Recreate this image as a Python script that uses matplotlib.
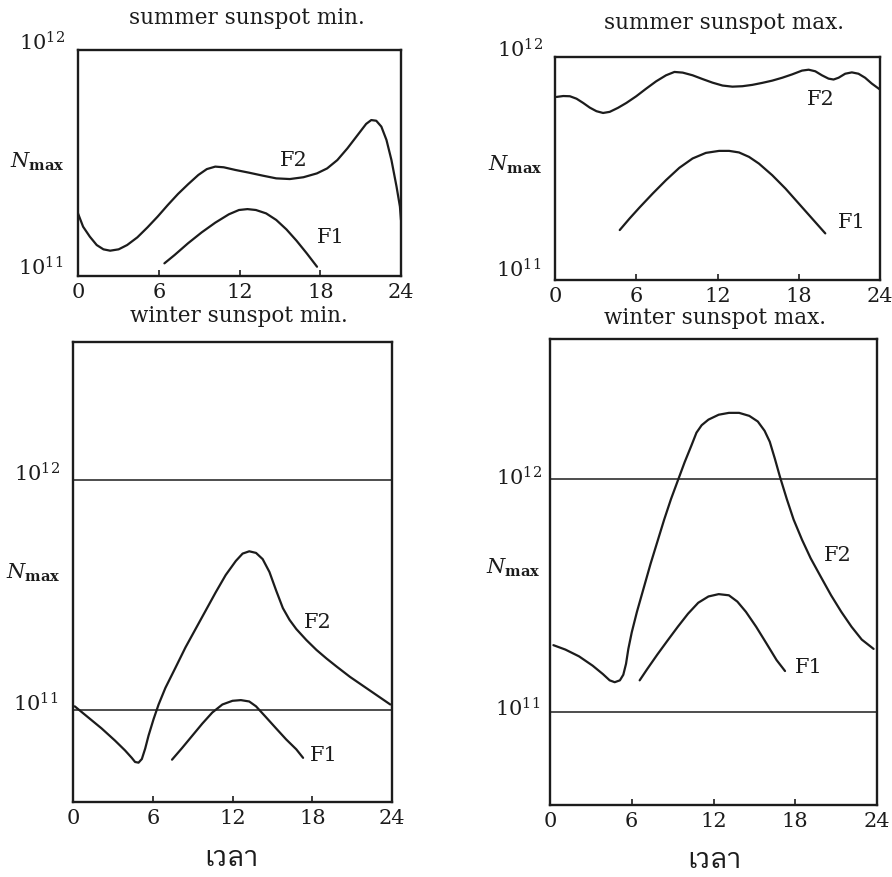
import matplotlib
matplotlib.use("Agg")
import matplotlib.pyplot as plt
import numpy as np
from matplotlib import font_manager, ft2font

# hours / log10(N)
sum_min_f2_t = [0, 0.38, 0.88, 1.39, 1.89, 2.39, 3.02, 3.65, 4.41, 5.16, 5.92, 6.67, 7.43, 8.18, 8.94, 9.57,
                10.2, 10.83, 11.71, 12.72, 13.73, 14.73, 15.74, 16.75, 17.75, 18.51, 19.27, 20.02, 20.78,
                21.41, 21.79, 22.16, 22.54, 22.92, 23.29, 23.67, 23.92, 24]
sum_min_f2_n = [11.277, 11.218, 11.174, 11.137, 11.118, 11.112, 11.118, 11.137, 11.171, 11.215, 11.263, 11.314,
                11.363, 11.406, 11.447, 11.473, 11.484, 11.481, 11.469, 11.457, 11.444, 11.432, 11.429, 11.437,
                11.454, 11.476, 11.513, 11.565, 11.624, 11.673, 11.690, 11.687, 11.661, 11.602, 11.513, 11.395,
                11.307, 11.248]
sum_min_f1_t = [6.42, 7.18, 8.18, 9.19, 10.2, 11.21, 11.96, 12.59, 13.22, 13.98, 14.73, 15.49, 16.24, 17.0, 17.76]
sum_min_f1_n = [11.056, 11.093, 11.145, 11.193, 11.236, 11.273, 11.292, 11.296, 11.292, 11.277, 11.248, 11.206,
                11.156, 11.100, 11.041]

sum_max_f2_t = [0.12, 0.61, 1.10, 1.59, 2.08, 2.57, 3.06, 3.55, 4.04, 4.65, 5.27, 6.0, 6.73, 7.47, 8.2, 8.82,
                9.43, 10.16, 10.9, 11.63, 12.37, 13.1, 13.84, 14.57, 15.31, 16.04, 16.78, 17.51, 18.24, 18.73,
                19.22, 19.71, 20.2, 20.57, 20.94, 21.43, 21.92, 22.41, 22.9, 23.39, 24]
sum_max_f2_n = [11.821, 11.825, 11.824, 11.813, 11.794, 11.773, 11.757, 11.749, 11.754, 11.772, 11.794, 11.824,
                11.858, 11.891, 11.918, 11.933, 11.930, 11.918, 11.901, 11.885, 11.872, 11.867, 11.869, 11.875,
                11.884, 11.894, 11.907, 11.922, 11.939, 11.943, 11.936, 11.918, 11.903, 11.899, 11.907, 11.925,
                11.931, 11.925, 11.907, 11.881, 11.854]
sum_max_f1_t = [4.78, 5.51, 6.24, 7.22, 8.2, 9.18, 10.16, 11.14, 12.12, 12.86, 13.59, 14.33, 15.06, 16.04, 17.02,
                18.0, 18.98, 19.96]
sum_max_f1_n = [11.224, 11.276, 11.325, 11.388, 11.448, 11.503, 11.545, 11.570, 11.579, 11.579, 11.572, 11.552,
                11.522, 11.470, 11.410, 11.343, 11.276, 11.209]

win_min_f2_t = [0.13, 1.14, 2.15, 3.16, 3.92, 4.42, 4.67, 4.93, 5.18, 5.43, 5.68, 6.06, 6.44, 6.95, 7.71, 8.46,
                9.22, 9.98, 10.74, 11.49, 12.25, 12.76, 13.26, 13.77, 14.27, 14.78, 15.28, 15.79, 16.29, 16.8,
                17.56, 18.32, 19.07, 19.83, 20.84, 21.85, 22.86, 23.87]
win_min_f2_n = [11.016, 10.968, 10.920, 10.867, 10.824, 10.792, 10.774, 10.771, 10.787, 10.832, 10.888, 10.960,
                11.024, 11.096, 11.184, 11.272, 11.352, 11.432, 11.512, 11.587, 11.648, 11.680, 11.690, 11.683,
                11.656, 11.600, 11.520, 11.443, 11.392, 11.352, 11.304, 11.261, 11.224, 11.189, 11.144, 11.104,
                11.064, 11.024]
win_min_f1_t = [7.45, 8.21, 8.97, 9.73, 10.48, 11.24, 12.0, 12.63, 13.26, 13.77, 14.53, 15.28, 16.04, 16.8, 17.31]
win_min_f1_n = [10.784, 10.835, 10.888, 10.941, 10.989, 11.024, 11.040, 11.043, 11.037, 11.016, 10.968, 10.920,
                10.872, 10.829, 10.792]

win_max_f2_t = [0.25, 1.13, 2.13, 3.13, 3.88, 4.38, 4.75, 5.13, 5.38, 5.58, 5.75, 6.0, 6.38, 6.88, 7.38, 7.88,
                8.38, 8.88, 9.38, 9.88, 10.38, 10.75, 11.13, 11.63, 12.38, 13.13, 13.88, 14.63, 15.25, 15.75,
                16.13, 16.5, 16.88, 17.38, 17.88, 18.5, 19.13, 19.88, 20.63, 21.38, 22.13, 22.88, 23.75]
win_max_f2_n = [11.286, 11.267, 11.238, 11.198, 11.162, 11.135, 11.127, 11.135, 11.159, 11.206, 11.270, 11.341,
                11.429, 11.532, 11.635, 11.730, 11.825, 11.913, 11.992, 12.071, 12.143, 12.198, 12.230, 12.254,
                12.275, 12.283, 12.283, 12.270, 12.246, 12.206, 12.159, 12.087, 12.008, 11.913, 11.825, 11.738,
                11.659, 11.579, 11.500, 11.429, 11.365, 11.310, 11.270]
win_max_f1_t = [6.58, 7.13, 7.88, 8.63, 9.38, 10.13, 10.88, 11.63, 12.38, 13.13, 13.75, 14.38, 15.13, 15.88,
                16.63, 17.25]
win_max_f1_n = [11.135, 11.183, 11.246, 11.306, 11.365, 11.421, 11.468, 11.495, 11.505, 11.500, 11.473, 11.429,
                11.365, 11.294, 11.222, 11.175]

titles = ["summer sunspot min.", "summer sunspot max.", "winter sunspot min.", "winter sunspot max."]
hour_ticks = [0, 6, 12, 18, 24]
x_label = "เวลา"


def thai_family():
    found = []
    for f in font_manager.fontManager.ttflist:
        try:
            if 0x0E40 in ft2font.FT2Font(f.fname).get_charmap():
                found.append(f.name)
        except Exception:
            pass
    for pref in ["Looped", "Serif Thai", "Norasi", "Kinnari", "Garuda", "Loma", "Waree", "Tlwg"]:
        for name in found:
            if pref in name:
                return name
    return found[0] if found else "DejaVu Sans"


plt.rcParams["font.family"] = "DejaVu Serif"
plt.rcParams["mathtext.fontset"] = "dejavuserif"
ink = "#1c1c1c"

W, H = 892, 877
fig = plt.figure(figsize=(W / 100, H / 100), dpi=100)


def box(x0, y0, x1, y1):
    return fig.add_axes([x0 / W, 1 - y1 / H, (x1 - x0) / W, (y1 - y0) / H])


def ftext(x, y, s, **kw):
    fig.text(x / W, 1 - y / H, s, color=ink, **kw)


ax_tl = box(78, 50, 401, 276)
ax_tr = box(555, 57, 880, 280)
ax_bl = box(73, 342, 392, 802)
ax_br = box(550, 339, 877, 805)

curves = [
    (ax_tl, sum_min_f2_t, sum_min_f2_n, sum_min_f1_t, sum_min_f1_n, (16.0, 11.51), (18.8, 11.17)),
    (ax_tr, sum_max_f2_t, sum_max_f2_n, sum_max_f1_t, sum_max_f1_n, (19.6, 11.81), (21.9, 11.26)),
    (ax_bl, win_min_f2_t, win_min_f2_n, win_min_f1_t, win_min_f1_n, (18.4, 11.38), (18.9, 10.80)),
    (ax_br, win_max_f2_t, win_max_f2_n, win_max_f1_t, win_max_f1_n, (21.1, 11.67), (19.0, 11.19)),
]

for i, (ax, t2, n2, t1, n1, p2, p1) in enumerate(curves):
    ax.plot(t2, 10 ** np.array(n2), color=ink, lw=1.6, solid_joinstyle="round", solid_capstyle="round")
    ax.plot(t1, 10 ** np.array(n1), color=ink, lw=1.6, solid_joinstyle="round", solid_capstyle="round")
    ax.text(p2[0], 10 ** p2[1], "F2", fontsize=15, color=ink, ha="center", va="center")
    ax.text(p1[0], 10 ** p1[1], "F1", fontsize=15, color=ink, ha="center", va="center")
    ax.set_yscale("log")
    ax.set_xlim(0, 24)
    if i < 2:
        ax.set_ylim(1e11, 1e12)
    else:
        ax.set_ylim(10 ** 10.6, 10 ** 12.6)
        ax.axhline(1e12, color=ink, lw=1.1)
        ax.axhline(1e11, color=ink, lw=1.1)
    ax.set_xticks(hour_ticks)
    ax.set_xticklabels([str(h) for h in hour_ticks])
    ax.set_yticks([])
    ax.minorticks_off()
    ax.tick_params(axis="x", direction="in", length=4, width=1.2, labelsize=15,
                   pad=5, colors=ink)
    for s in ax.spines.values():
        s.set_linewidth(1.7)
        s.set_color(ink)

# titles
ftext(247, 18, titles[0], fontsize=15.5, ha="center", va="center")
ftext(724, 23, titles[1], fontsize=15.5, ha="center", va="center")
ftext(239, 316, titles[2], fontsize=15.5, ha="center", va="center")
ftext(715, 318, titles[3], fontsize=15.5, ha="center", va="center")

# decade labels
e12 = r"$\mathregular{10^{12}}$"
e11 = r"$\mathregular{10^{11}}$"
ftext(65, 43, e12, fontsize=15, ha="right", va="center")
ftext(63, 268, e11, fontsize=15, ha="right", va="center")
ftext(543, 50, e12, fontsize=15, ha="right", va="center")
ftext(541, 270, e11, fontsize=15, ha="right", va="center")
ftext(60, 474, e12, fontsize=15, ha="right", va="center")
ftext(58, 704, e11, fontsize=15, ha="right", va="center")
ftext(542, 478, e12, fontsize=15, ha="right", va="center")
ftext(540, 709, e11, fontsize=15, ha="right", va="center")

# N_max labels
nmax = r"$N_{\mathbf{max}}$"
ftext(37, 162, nmax, fontsize=15, ha="center", va="center")
ftext(515, 165, nmax, fontsize=15, ha="center", va="center")
ftext(33, 573, nmax, fontsize=15, ha="center", va="center")
ftext(513, 568, nmax, fontsize=15, ha="center", va="center")

# time axis labels
thai = [thai_family(), "DejaVu Sans"]
ftext(232, 858, x_label, fontsize=20, ha="center", va="center", family=thai)
ftext(715, 860, x_label, fontsize=20, ha="center", va="center", family=thai)

fig.savefig("out.png", dpi=100, facecolor="white")
